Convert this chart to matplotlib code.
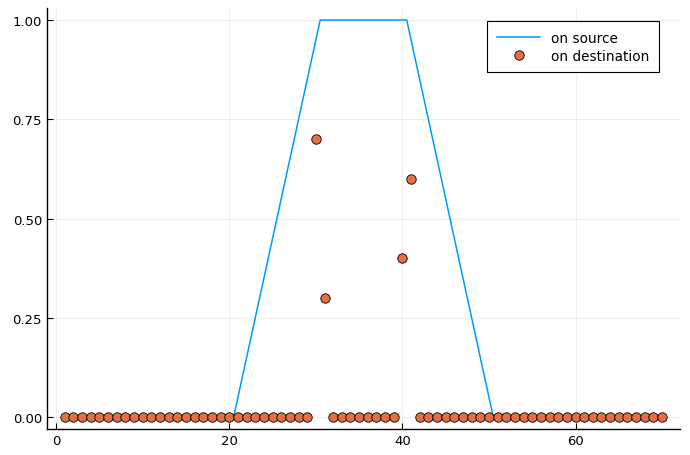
import matplotlib
matplotlib.use("Agg")
import matplotlib.pyplot as plt

# on source: trapezoid vertices
src_x = [1, 20.5, 30.5, 40.5, 50.5, 70]
src_y = [0, 0, 1, 1, 0, 0]

# on destination: cell values
dst_x = list(range(1, 71))
dst_y = [0.0] * 70
dst_y[29] = 0.7   # x = 30
dst_y[30] = 0.3   # x = 31
dst_y[39] = 0.4   # x = 40
dst_y[40] = 0.6   # x = 41

xticks = [0, 20, 40, 60]
yticks = [0.0, 0.25, 0.5, 0.75, 1.0]
yticklabels = ["0.00", "0.25", "0.50", "0.75", "1.00"]

fig = plt.figure(figsize=(6.9, 4.56), dpi=100)
ax = fig.add_axes([0.068, 0.057, 0.9175, 0.923])

ax.plot(src_x, src_y, color="#009AFA", lw=1.1, label="on source", zorder=2)
ax.plot(dst_x, dst_y, "o", color="#E26F46", mec="black", mew=0.6, ms=6.8,
        label="on destination", zorder=3)

ax.set_xlim(-1.07, 72.07)
ax.set_ylim(-0.03, 1.03)
ax.set_xticks(xticks)
ax.set_yticks(yticks)
ax.set_yticklabels(yticklabels)
ax.grid(True, color="black", alpha=0.1, lw=0.5)
ax.set_axisbelow(True)
ax.spines["top"].set_visible(False)
ax.spines["right"].set_visible(False)
ax.spines["left"].set_linewidth(1)
ax.spines["bottom"].set_linewidth(1)
ax.tick_params(direction="in", length=4, width=0.8, labelsize=9.5, colors="black")

leg = ax.legend(loc="upper right", fontsize=9.8, fancybox=False, framealpha=1,
                edgecolor="black", borderpad=0.7, handlelength=3.2, labelspacing=0.3,
                bbox_to_anchor=(0.978, 0.985))
leg.get_frame().set_linewidth(0.8)

plt.savefig("out.png", dpi=100)
